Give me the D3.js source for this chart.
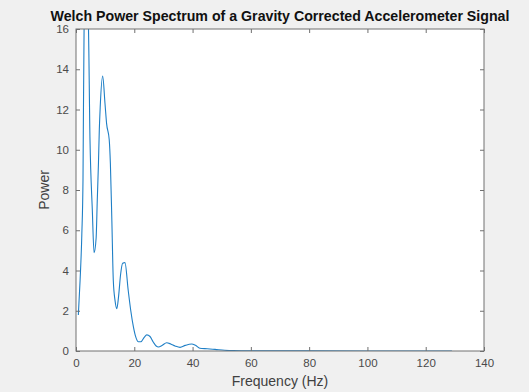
<!DOCTYPE html>
<html>
<head>
<meta charset="utf-8">
<script src="https://cdn.jsdelivr.net/npm/d3@7"></script>
<style>
  body { margin: 0; background: #f0f0f0; }
  svg { display: block; font-family: "Liberation Sans", Arial, sans-serif; }
</style>
</head>
<body>
<svg id="chart" width="529" height="392"></svg>
<script>
// frequency (Hz) and Welch power estimate
const freq = [0.8, 1.4, 2.0, 2.4, 2.8, 3.5, 4.2, 4.8, 5.6, 6.2, 6.9, 7.3, 7.7, 8.0, 8.3, 9.15, 9.95, 10.5, 11.4, 11.8,
  12.3, 12.8, 13.4, 14.0, 14.6, 15.3, 16.0, 16.8, 17.9, 18.8, 19.7, 20.5, 21.4, 22.3, 23.4, 24.3, 25.4, 26.5, 27.5,
  28.3, 29.5, 31.1, 32.5, 34.0, 35.7, 37.5, 39.7, 41.0, 42.5, 45, 47.7, 51, 54, 60, 80, 100, 129];
const power = [1.79, 3.5, 5.8, 8.5, 16.5, 17.5, 16.5, 10.5, 7.0, 4.88, 5.6, 7.5, 9.3, 11.0, 12.1, 13.66, 12.3, 11.3, 10.5, 9.3,
  6.5, 3.5, 2.5, 2.1, 2.7, 3.8, 4.36, 4.39, 3.03, 2.0, 1.2, 0.7, 0.46, 0.46, 0.68, 0.8, 0.72, 0.45, 0.25,
  0.2, 0.27, 0.41, 0.35, 0.25, 0.18, 0.28, 0.35, 0.28, 0.14, 0.11, 0.08, 0.04, 0.02, 0.01, 0.005, 0.003, 0.002];
const xTicks = [0, 20, 40, 60, 80, 100, 120, 140];
const yTicks = [0, 2, 4, 6, 8, 10, 12, 14, 16];

const svg = d3.select("#chart");
const margin = { top: 29, right: 45, bottom: 41, left: 76 };
const width = 529 - margin.left - margin.right;
const height = 392 - margin.top - margin.bottom;
const axisColor = "#707070";

const x = d3.scaleLinear().domain([0, 140]).range([0, width]);
const y = d3.scaleLinear().domain([0, 16]).range([height, 0]);

const g = svg.append("g").attr("transform", `translate(${margin.left},${margin.top})`);

g.append("rect").attr("width", width).attr("height", height).attr("fill", "#fff");

g.append("clipPath").attr("id", "clip")
  .append("rect").attr("width", width).attr("height", height);

// data line
const line = d3.line()
  .x((d, i) => x(freq[i]))
  .y(d => y(d))
  .curve(d3.curveMonotoneX);

g.append("path")
  .datum(power)
  .attr("clip-path", "url(#clip)")
  .attr("fill", "none")
  .attr("stroke", "#1f7fc6")
  .attr("stroke-width", 1.1)
  .attr("d", line);

// axes with inward ticks, mirrored on top/right
const styleAxis = sel => {
  sel.select(".domain").remove();
  sel.selectAll(".tick line").attr("stroke", axisColor);
  sel.selectAll(".tick text").attr("fill", "#4a4a4a").style("font-size", "11.5px");
};

g.append("g")
  .attr("transform", `translate(0,${height})`)
  .call(d3.axisBottom(x).tickValues(xTicks).tickSizeInner(-4).tickPadding(8))
  .call(styleAxis);
g.append("g")
  .call(d3.axisTop(x).tickValues(xTicks).tickSizeInner(-4).tickFormat(""))
  .call(styleAxis);
g.append("g")
  .call(d3.axisLeft(y).tickValues(yTicks).tickSizeInner(-4).tickPadding(7))
  .call(styleAxis);
g.append("g")
  .attr("transform", `translate(${width},0)`)
  .call(d3.axisRight(y).tickValues(yTicks).tickSizeInner(-4).tickFormat(""))
  .call(styleAxis);

g.append("rect")
  .attr("width", width).attr("height", height)
  .attr("fill", "none").attr("stroke", axisColor).attr("stroke-width", 1);

// labels
svg.append("text")
  .attr("x", margin.left + width / 2).attr("y", 21)
  .attr("text-anchor", "middle")
  .style("font-size", "14.2px").style("font-weight", "bold").attr("fill", "#111")
  .text("Welch Power Spectrum of a Gravity Corrected Accelerometer Signal");

svg.append("text")
  .attr("x", margin.left + width / 2).attr("y", 386)
  .attr("text-anchor", "middle")
  .style("font-size", "14px").attr("fill", "#404040")
  .text("Frequency (Hz)");

svg.append("text")
  .attr("transform", `translate(49,${margin.top + height / 2}) rotate(-90)`)
  .attr("text-anchor", "middle")
  .style("font-size", "14px").attr("fill", "#404040")
  .text("Power");
</script>
</body>
</html>
